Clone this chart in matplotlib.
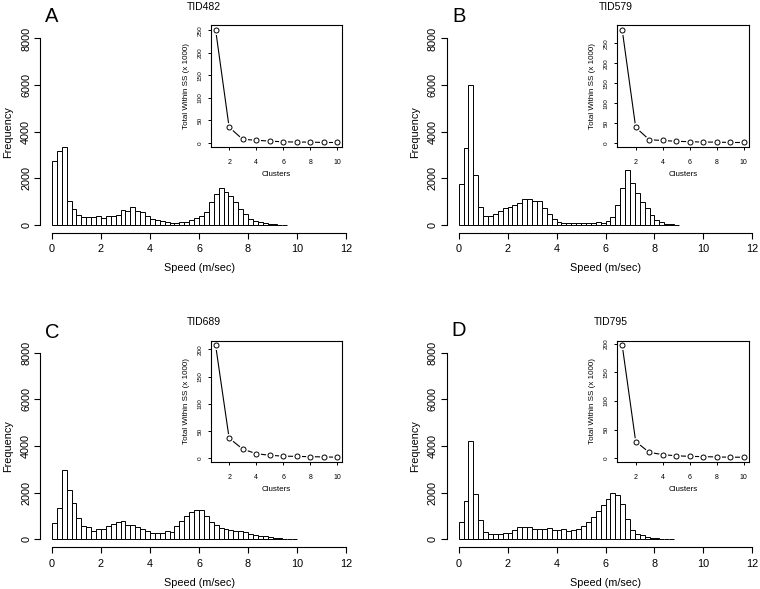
import numpy as np
import matplotlib.pyplot as plt

plt.rcParams['font.family'] = ['Liberation Sans', 'DejaVu Sans']

# histogram counts, bins of 0.2 m/sec starting at 0
bin_width = 0.2
counts_482 = [2750, 3170, 3340, 1030, 670, 430, 360, 350, 350, 380, 320, 370, 400, 450,
              650, 600, 760, 600, 580, 400, 280, 220, 160, 120, 100, 100, 130, 150, 200,
              290, 400, 560, 970, 1320, 1570, 1400, 1250, 980, 690, 460, 270, 170, 110,
              70, 40, 25, 15, 10]
counts_579 = [1760, 3310, 6000, 2140, 770, 370, 370, 460, 590, 740, 760, 860, 930, 1100,
              1130, 1040, 1040, 730, 490, 240, 130, 100, 80, 70, 70, 70, 70, 80, 110,
              100, 170, 330, 840, 1600, 2340, 1810, 1360, 1000, 710, 430, 220, 110, 60,
              30, 15]
counts_689 = [700, 1340, 2970, 2110, 1540, 900, 570, 510, 360, 460, 460, 570, 660, 760,
              800, 600, 600, 510, 460, 370, 290, 290, 260, 340, 310, 590, 800, 990, 1190,
              1260, 1270, 1010, 760, 600, 490, 460, 400, 370, 340, 300, 230, 200, 160,
              130, 100, 70, 40, 30, 15, 10]
counts_795 = [730, 1640, 4210, 1940, 830, 300, 230, 230, 230, 270, 270, 400, 510, 510,
              510, 460, 460, 430, 490, 410, 410, 430, 360, 410, 460, 590, 740, 940, 1200,
              1470, 1730, 1970, 1900, 1500, 890, 410, 240, 170, 110, 70, 40, 25, 15, 10]

# elbow plots: total within SS (x 1000) for k = 1..10
clusters = [1, 2, 3, 4, 5, 6, 7, 8, 9, 10]
wss_482 = [252, 35, 8, 6, 4, 2.5, 2, 1.8, 1, 1]
wss_579 = [285, 39, 8, 6, 4, 3, 2, 2, 1, 1]
wss_689 = [208, 37, 17, 8.5, 5.5, 4, 3.5, 3, 2.5, 2]
wss_795 = [198, 29, 10, 6, 4, 3, 2.5, 2, 1.5, 1.5]

names = ['TID482', 'TID579', 'TID689', 'TID795']
letters = ['A', 'B', 'C', 'D']
all_counts = [counts_482, counts_579, counts_689, counts_795]
all_wss = [wss_482, wss_579, wss_689, wss_795]

W, H = 760, 589
fig = plt.figure(figsize=(W / 100, H / 100), dpi=100)


def box(l, t, r, b):
    # pixel box -> figure fraction rect
    return [l / W, 1 - b / H, (r - l) / W, (b - t) / H]


# pixel layout of each panel (main left, top, right, bottom; inset box; title pos; letter pos)
main_boxes = [(40.2, 31.0, 357.8, 232.5), (446.9, 31.0, 764.1, 232.5),
              (40.2, 345.2, 357.8, 546.8), (446.9, 345.2, 764.1, 546.8)]
inset_boxes = [(210.7, 25, 342.3, 147), (617.3, 25, 748.7, 147),
               (210.7, 340.5, 342.3, 461.7), (617.3, 340.5, 748.7, 461.7)]
title_pos = [(204, 7), (616, 7), (204, 322), (611, 322)]
letter_pos = [(52, 16), (459, 16), (52, 332), (459, 331)]

for i in range(4):
    counts = all_counts[i]
    lefts = np.arange(len(counts)) * bin_width

    ax = fig.add_axes(box(*main_boxes[i]))
    ax.bar(lefts, counts, width=bin_width, align='edge', facecolor='white',
           edgecolor='black', linewidth=0.7)
    ax.set_xlim(-0.48, 12.48)
    ax.set_ylim(-320, 8320)
    for s in ['top', 'right']:
        ax.spines[s].set_visible(False)
    ax.spines['left'].set_bounds(0, 8000)
    ax.spines['bottom'].set_bounds(0, 12)
    ax.spines['left'].set_linewidth(0.8)
    ax.spines['bottom'].set_linewidth(0.8)
    ax.set_xticks(range(0, 13, 2))
    ax.set_yticks(range(0, 8001, 2000))
    ax.tick_params(length=4, width=0.8, labelsize=7.8, pad=4.5)
    ax.tick_params(axis='y', labelrotation=90, pad=2.5)
    plt.setp(ax.get_yticklabels(), va='center')
    ax.set_xlabel('Speed (m/sec)', fontsize=7.8, labelpad=6.5)
    ax.set_ylabel('Frequency', fontsize=7.8, labelpad=5.5)

    wss = all_wss[i]
    ins = fig.add_axes(box(*inset_boxes[i]))
    ins.plot(clusters, wss, color='black', linewidth=0.8)
    ins.plot(clusters, wss, 'o', color='white', markersize=6.5, markeredgewidth=0)
    ins.plot(clusters, wss, 'o', markerfacecolor='white', markeredgecolor='black',
             markersize=3.6, markeredgewidth=0.7)
    lo, hi = min(wss), max(wss)
    top = hi + 0.04 * (hi - lo)
    ins.set_ylim(lo - 0.04 * (hi - lo), top)
    ins.set_xlim(0.64, 10.36)
    ins.set_xticks(range(2, 11, 2))
    ins.set_yticks(range(0, int(top) + 1, 50))
    for s in ins.spines.values():
        s.set_linewidth(0.8)
    ins.tick_params(length=2.5, width=0.7, labelsize=5, pad=6)
    ins.tick_params(axis='y', labelrotation=90, labelsize=4.6, pad=3.5)
    plt.setp(ins.get_yticklabels(), va='center')
    ins.set_xlabel('Clusters', fontsize=5.8, labelpad=4)
    ins.set_ylabel('Total Within SS (x 1000)', fontsize=5.8, labelpad=5.5)

    tx, ty = title_pos[i]
    fig.text(tx / W, 1 - ty / H, names[i], ha='center', va='center', fontsize=7.5)
    lx, ly = letter_pos[i]
    fig.text(lx / W, 1 - ly / H, letters[i], ha='center', va='center', fontsize=14.5)

fig.savefig('out.png', dpi=100)
